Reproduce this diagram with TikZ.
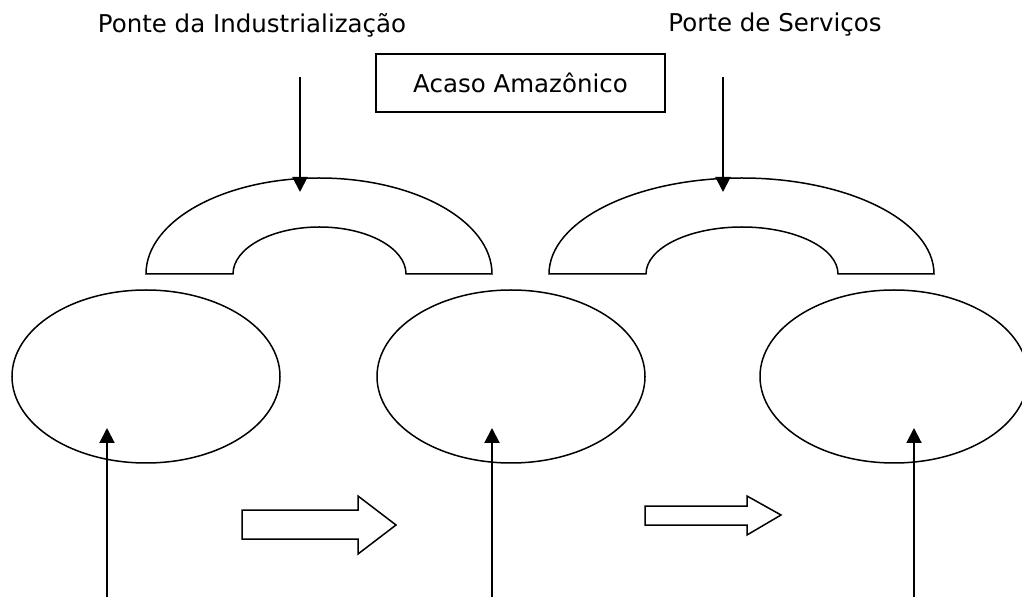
\documentclass[tikz,border=0pt]{standalone}
\usepackage{fontspec}
\setmainfont{DejaVu Sans}
\usepackage{tikz}
\usetikzlibrary{shapes, arrows.meta, positioning}

\begin{document}
\begin{tikzpicture}[x=1pt, y=1pt,
    bowl/.style={draw, ellipse, line width=1.5pt, minimum width=268pt, minimum height=173pt, inner sep=0pt},
    pointer/.style={line width=2pt, -{Triangle[width=15pt,length=15pt]}},
    hollow/.style={draw, line width=1.5pt, line join=miter},
    title/.style={font=\fontsize{24.5}{28}\selectfont}]
      \useasboundingbox (0,0) rectangle (1022,597);

      \node[title] (ponte) at (252,572) {Ponte da Industrialização};
      \node[title] (porte) at (775,572) {Porte de Serviços};
      \node[title, draw, line width=1.5pt, minimum width=289pt, minimum height=58pt] (acaso) at (520.5,514) {Acaso Amazônico};

      \node[bowl] (left) at (146,220.5) {};
      \node[bowl] (mid) at (511,220.5) {};
      \node[bowl] (right) at (894,220.5) {};

      \draw[hollow] (146,323) arc[start angle=180, end angle=0, x radius=173, y radius=96]
        -- (406,323) arc[start angle=0, end angle=180, x radius=86.5, y radius=47] -- cycle;
      \draw[hollow] (549,323) arc[start angle=180, end angle=0, x radius=192.5, y radius=96]
        -- (838,323) arc[start angle=0, end angle=180, x radius=96, y radius=47] -- cycle;

      \coordinate (ponte drop) at (300,520);
      \coordinate (ponte hit) at (300,405);
      \coordinate (porte drop) at (723,520);
      \coordinate (porte hit) at (723,405);
      \draw[pointer] (ponte drop) -- (ponte hit);
      \draw[pointer] (porte drop) -- (porte hit);

      \coordinate (left foot) at (107,0);
      \coordinate (left aim) at (107,169);
      \coordinate (mid foot) at (492,0);
      \coordinate (mid aim) at (492,169);
      \coordinate (right foot) at (914,0);
      \coordinate (right aim) at (914,169);
      \draw[pointer] (left foot) -- (left aim);
      \draw[pointer] (mid foot) -- (mid aim);
      \draw[pointer] (right foot) -- (right aim);

      \draw[hollow] (242,58) -- (358,58) -- (358,43) -- (396,72) -- (358,101) -- (358,87) -- (242,87) -- cycle;
      \draw[hollow] (645,72) -- (747,72) -- (747,62) -- (781,82) -- (747,101) -- (747,91) -- (645,91) -- cycle;

\end{tikzpicture}
\end{document}
